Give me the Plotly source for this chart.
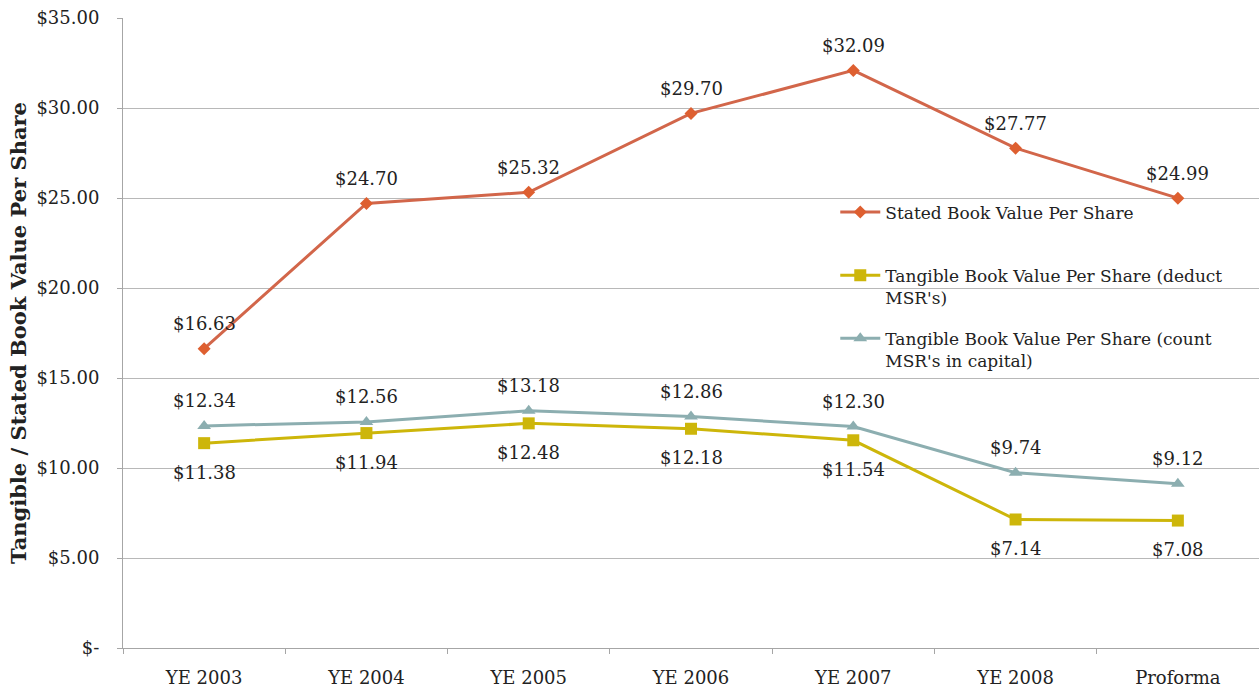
import plotly.graph_objects as go

# Per-share book values by period
categories = ["YE 2003", "YE 2004", "YE 2005", "YE 2006", "YE 2007", "YE 2008", "Proforma"]
stated_bv = [16.63, 24.70, 25.32, 29.70, 32.09, 27.77, 24.99]
tangible_deduct = [11.38, 11.94, 12.48, 12.18, 11.54, 7.14, 7.08]
tangible_count = [12.34, 12.56, 13.18, 12.86, 12.30, 9.74, 9.12]

y_tickvals = [0, 5, 10, 15, 20, 25, 30, 35]
y_ticktext = ["$-", "$5.00", "$10.00", "$15.00", "$20.00", "$25.00", "$30.00", "$35.00"]

FONT = "DejaVu Serif"
TXT = "#222222"

series = [
    ("Stated Book Value Per Share<br> ", stated_bv, "#D2664A", "#DE5F30", "diamond", 10, 25),
    ("Tangible Book Value Per Share (deduct<br>MSR's)", tangible_deduct, "#CDB60A", "#CDB60A", "square", 12, -29),
    ("Tangible Book Value Per Share (count<br>MSR's in capital)", tangible_count, "#8CAEB0", "#8CAEB0", "triangle-up", 12, 25),
]

fig = go.Figure()
annotations = []
for i, (name, vals, lc, mc, sym, ms, shift) in enumerate(series):
    fig.add_trace(go.Scatter(
        x=categories, y=vals, name=name, mode="lines+markers",
        line=dict(color=lc, width=3),
        marker=dict(symbol=sym, size=ms, color=mc),
        legendgroup=f"g{i}",
    ))
    for c, v in zip(categories, vals):
        annotations.append(dict(
            x=c, y=v, text=f"${v:.2f}", showarrow=False, yshift=shift,
            font=dict(family=FONT, size=18, color=TXT),
        ))

fig.update_layout(
    width=1259, height=692,
    margin=dict(l=123, r=0, t=18, b=44),
    paper_bgcolor="white", plot_bgcolor="white",
    font=dict(family=FONT, size=18, color=TXT),
    annotations=annotations,
    showlegend=True,
    legend=dict(
        x=0.627, y=0.72, xanchor="left", yanchor="top",
        bgcolor="rgba(255,255,255,0)", valign="top",
        tracegroupgap=16, itemwidth=40,
        font=dict(family=FONT, size=17, color=TXT),
    ),
)
fig.update_xaxes(
    range=[-0.5, 6.5], showgrid=False,
    showline=True, linecolor="#A6A6A6", linewidth=1,
    ticks="outside", tickson="boundaries", ticklen=5, tickcolor="#A6A6A6",
    ticklabelstandoff=13,
    tickfont=dict(family=FONT, size=18, color=TXT),
)
fig.update_yaxes(
    range=[0, 35], tickvals=y_tickvals, ticktext=y_ticktext,
    showgrid=True, gridcolor="#B8B8B8", gridwidth=1,
    showline=True, linecolor="#A6A6A6", linewidth=1,
    ticks="outside", ticklen=5, tickcolor="#A6A6A6",
    ticklabelstandoff=14,
    tickfont=dict(family=FONT, size=18, color=TXT),
    zeroline=False,
    title=dict(text="<b>Tangible / Stated Book Value Per Share</b>",
               font=dict(family=FONT, size=21, color=TXT), standoff=4),
)

fig.write_html("out.html")
